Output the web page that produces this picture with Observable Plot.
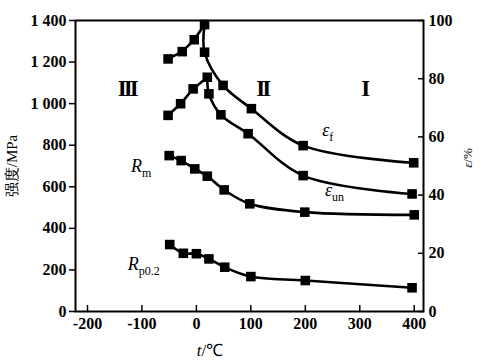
<!DOCTYPE html>
<html><head><meta charset="utf-8">
<script src="https://cdn.jsdelivr.net/npm/d3@7"></script>
<script src="https://cdn.jsdelivr.net/npm/@observablehq/plot@0.6"></script>
<style>
body{margin:0;background:#fff}
#chart svg, #chart svg text{font-family:"Liberation Serif","Times New Roman",serif;}
</style>
</head><body><div id="chart"></div>
<script>
// Temperatures (°C) and values
const efT = [-52, -26, -4, 15, 15, 49, 101, 196, 399];
const efV = [86.8, 89.3, 93.4, 98.6, 89.1, 77.7, 69.7, 57.0, 51.1];   // ε_f, %
const euT = [-52, -29, -6, 20, 23, 45, 95, 196, 396];
const euV = [67.4, 71.4, 76.5, 80.5, 74.8, 67.6, 61.1, 46.7, 40.4];   // ε_un, %
const rmT = [-50, -28, -3, 20, 51, 98, 199, 400];
const rmV = [750, 726, 686, 651, 585, 518, 478, 465];                 // R_m, MPa
const rpT = [-49, -24, 0, 23, 52, 100, 200, 396];
const rpV = [322, 280, 278, 253, 213, 168, 149, 114];                 // R_p0.2, MPa
const peakIdx = {ef: 3, eu: 3};

const xTicks = [-200, -100, 0, 100, 200, 300, 400];
const yTicks = [0, 200, 400, 600, 800, 1000, 1200, 1400];
const epsTicks = [0, 20, 40, 60, 80, 100];
const ratio = 1400 / 100; // right axis (ε %) to left axis (MPa)

const regionLabels = [
  {t: -128, v: 1073, text: "III"},
  {t: 121, v: 1073, text: "II"},
  {t: 308, v: 1073, text: "I"}
];
const seriesLabels = [
  {t: -119, v: 669, main: "R", sub: "m"},
  {t: -125, v: 197, main: "R", sub: "p0.2"},
  {t: 232, v: 840, main: "ε", sub: "f"},
  {t: 237, v: 553, main: "ε", sub: "un"}
];

const rows = (T, V, k) => T.map((t, i) => ({t, v: V[i] * k}));
const ef = rows(efT, efV, ratio);
const eu = rows(euT, euV, ratio);
const rm = rows(rmT, rmV, 1);
const rp = rows(rpT, rpV, 1);

const fmt = d => d >= 1000 ? `${Math.floor(d / 1000)} ${String(d % 1000).padStart(3, "0")}` : String(d);
const sw = 2.6;
const serif = "Liberation Serif, Times New Roman, serif";

const chart = Plot.plot({
  width: 482, height: 363,
  marginLeft: 75, marginRight: 59, marginTop: 20, marginBottom: 52,
  style: {fontSize: "16px", fontFamily: serif, color: "black", background: "white"},
  x: {domain: [-222, 417]},
  y: {domain: [0, 1400]},
  marks: [
    Plot.frame({strokeWidth: 2}),
    Plot.axisY({anchor: "left", ticks: yTicks, tickFormat: fmt, tickSize: 6, tickPadding: 3, label: null, strokeWidth: 1.5, fontFamily: serif, fontSize: 16, fontWeight: "bold"}),
    Plot.axisY({anchor: "right", ticks: epsTicks.map(e => e * ratio), tickFormat: d => String(Math.round(d / ratio)), tickSize: -6, tickPadding: 11, label: null, strokeWidth: 1.5, fontFamily: serif, fontSize: 16, fontWeight: "bold"}),
    Plot.axisX({ticks: xTicks, tickFormat: d => String(d), tickSize: -6, tickPadding: 12, label: null, strokeWidth: 1.5, fontFamily: serif, fontSize: 16, fontWeight: "bold"}),
    Plot.line(ef.slice(0, peakIdx.ef + 1), {x: "t", y: "v", strokeWidth: sw}),
    Plot.line(ef.slice(peakIdx.ef), {x: "t", y: "v", curve: "catmull-rom", strokeWidth: sw}),
    Plot.line(eu.slice(0, peakIdx.eu + 1), {x: "t", y: "v", strokeWidth: sw}),
    Plot.line(eu.slice(peakIdx.eu), {x: "t", y: "v", curve: "catmull-rom", strokeWidth: sw}),
    Plot.line(rm, {x: "t", y: "v", curve: "catmull-rom", strokeWidth: sw}),
    Plot.line(rp, {x: "t", y: "v", curve: "catmull-rom", strokeWidth: sw}),
    Plot.dot([...ef, ...eu, ...rm, ...rp], {x: "t", y: "v", symbol: "square", r: 5.4, fill: "black", stroke: "none"}),
    Plot.text(regionLabels, {x: "t", y: "v", text: "text", fontSize: 23, fontFamily: serif, fontWeight: "bold", fill: "black"})
  ]
});
document.getElementById("chart").appendChild(chart);

const svg = d3.select(chart);
svg.selectAll("text").filter(function() { return /^I+$/.test(this.textContent); }).attr("letter-spacing", "-3px");
const sx = chart.scale("x"), sy = chart.scale("y");
for (const L of seriesLabels) {
  const t = svg.append("text")
    .attr("x", sx.apply(L.t)).attr("y", sy.apply(L.v)).attr("text-anchor", "start")
    .attr("font-size", 18).attr("font-family", serif).attr("fill", "black");
  t.append("tspan").attr("font-style", "italic").text(L.main);
  t.append("tspan").attr("font-size", 12).attr("dy", 5).text(L.sub);
}
// axis titles
svg.append("text").attr("transform", "translate(12,166) rotate(-90)").attr("text-anchor", "middle")
  .attr("dominant-baseline", "central")
  .attr("font-size", 15).attr("font-family", "Noto Sans CJK SC, sans-serif").attr("fill", "black")
  .text("强度/MPa");
svg.append("text").attr("transform", "translate(467,158) rotate(-90)").attr("text-anchor", "middle")
  .attr("dominant-baseline", "central")
  .attr("font-size", 13).attr("font-family", serif).attr("fill", "black")
  .call(t => { t.append("tspan").attr("font-style", "italic").text("ε"); t.append("tspan").text("/%"); });
svg.append("text").attr("x", 210).attr("y", 356).attr("text-anchor", "middle")
  .attr("font-size", 17).attr("font-family", serif).attr("fill", "black")
  .call(t => { t.append("tspan").attr("font-style", "italic").text("t"); t.append("tspan").text("/℃"); });
</script>
</body></html>
